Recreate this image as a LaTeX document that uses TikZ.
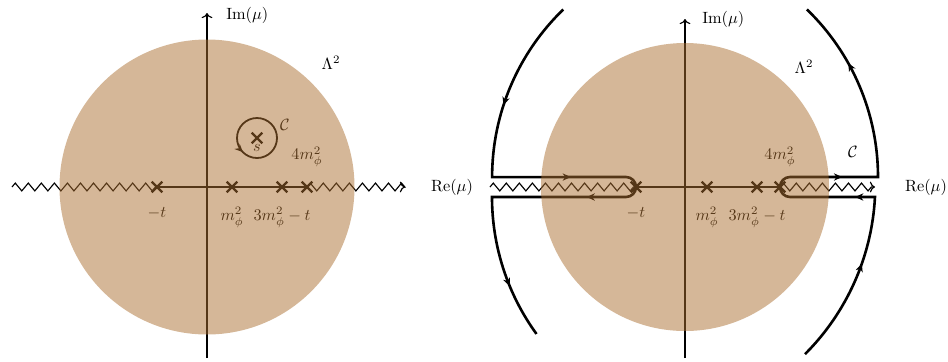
\documentclass[tikz,border=0pt]{standalone}
\usepackage{amsmath,amssymb}
\usepackage{tikz}
\usetikzlibrary{
  arrows.meta, positioning, shapes.misc,
  decorations.pathmorphing, decorations.markings
}
\usepackage{xcolor}
\definecolor{diskTan}{RGB}{171,111,49}

\begin{document}
\begin{tikzpicture}[
  x=0.539cm, y=0.539cm,
  disk/.style={fill=diskTan, fill opacity=0.5},
  axis/.style={->, line width=0.7pt},
  cut/.style={
    decorate, line width=0.7pt,
    decoration={zigzag, amplitude=2.4pt, segment length=8pt}
  },
  pole/.style={
    cross out, draw, line width=1.5pt,
    minimum size=5pt, inner sep=0pt
  },
  lbl/.style={inner sep=1pt},
  contour/.style={line width=1.6pt},
  arrowat/.style={
    postaction={decorate, decoration={markings,
      mark=at position #1 with {\arrow{Stealth[length=5pt,width=4.5pt]}}}}
  }
]
  \useasboundingbox (-8.28,-6.96) rectangle (29.64,7.48);

  % left: small contour round s
  \coordinate (leftL)  at (-7.8,0);
  \coordinate (rightL) at (7.92,0);
  \coordinate (botL)   at (0,-6.84);
  \coordinate (topL)   at (0,6.96);
  \draw[axis] (botL) -- (topL);

  \node[pole] (mtL) at (-2,0) {};
  \node[pole] (m1L) at (1,0) {};
  \node[pole] (m3L) at (3,0) {};
  \node[pole] (m4L) at (4,0) {};
  \node[pole] (sL)  at (2,1.96) {};

  \draw[cut] (leftL) -- (mtL.center);
  \draw[line width=0.7pt] (mtL.center) -- (m4L.center);
  \draw[cut, ->] (m4L.center) -- (rightL);

  \draw[line width=1.1pt, arrowat=0.625] (sL) circle[radius=0.8];

  \node[right] (imL) at (0.54,6.88) {$\mathrm{Im}(\mu)$};
  \node (reL) at (9.8,0) {$\mathrm{Re}(\mu)$};
  \node (lamL) at (4.96,4.96) {$\Lambda^2$};
  \node[lbl] (cL) at (3.12,2.48) {$\mathcal{C}$};
  \node[below=0pt of sL, inner sep=0.5pt] (sLab) {$s$};
  \node[lbl, below=0.28cm of mtL] (tL) {$-t$};
  \node[lbl, below=0.28cm of m1L] (a1L) {$m_\phi^2$};
  \node[lbl, below=0.28cm of m3L] (a3L) {$3m_\phi^2-t$};
  \node[lbl, above=0.28cm of m4L] (a4L) {$4m_\phi^2$};

  \fill[disk] (0,0) circle[radius=5.9];

  % right: contour pushed out to infinity
  \begin{scope}[shift={(19.12,0)}]
    \coordinate (leftR)  at (-7.8,0);
    \coordinate (rightR) at (7.6,0);
    \coordinate (botR)   at (0,-6.84);
    \coordinate (topR)   at (0,6.72);
    \draw[axis] (botR) -- (topR);

    \node[pole] (mtR) at (-1.96,0) {};
    \node[pole] (m1R) at (0.88,0) {};
    \node[pole] (m3R) at (2.88,0) {};
    \node[pole] (m4R) at (3.8,0) {};

    \draw[cut] (leftR) -- (mtR.center);
    \draw[line width=0.7pt] (mtR.center) -- (m4R.center);
    \draw[cut, ->] (m4R.center) -- (rightR);

    \draw[contour, arrowat=0.18, arrowat=0.42, arrowat=0.619, arrowat=0.913]
      (-4.87,7.10) arc[start angle=134, end angle=180, radius=9.32]
      -- (-2.36,0.4) arc[start angle=90, end angle=-90, radius=0.4]
      -- (-7.72,-0.4) arc[start angle=180, end angle=216, radius=9.32];
    \draw[contour, arrowat=0.19, arrowat=0.345, arrowat=0.607, arrowat=0.88]
      (4.8,-6.686) arc[start angle=-45, end angle=-3, radius=9.6]
      -- (4.2,-0.4) arc[start angle=270, end angle=90, radius=0.4]
      -- (7.72,0.4) arc[start angle=0, end angle=46, radius=9.32];

    \node[right] (imR) at (0.46,6.72) {$\mathrm{Im}(\mu)$};
    \node (reR) at (9.64,0) {$\mathrm{Re}(\mu)$};
    \node (lamR) at (4.76,4.8) {$\Lambda^2$};
    \node[lbl] (cR) at (6.72,1.4) {$\mathcal{C}$};
    \node[lbl, below=0.28cm of mtR] (tR) {$-t$};
    \node[lbl, below=0.28cm of m1R] (a1R) {$m_\phi^2$};
    \node[lbl, below=0.28cm of m3R] (a3R) {$3m_\phi^2-t$};
    \node[lbl, above=0.28cm of m4R] (a4R) {$4m_\phi^2$};

    \fill[disk] (0,0) circle[radius=5.76];
  \end{scope}
\end{tikzpicture}
\end{document}
